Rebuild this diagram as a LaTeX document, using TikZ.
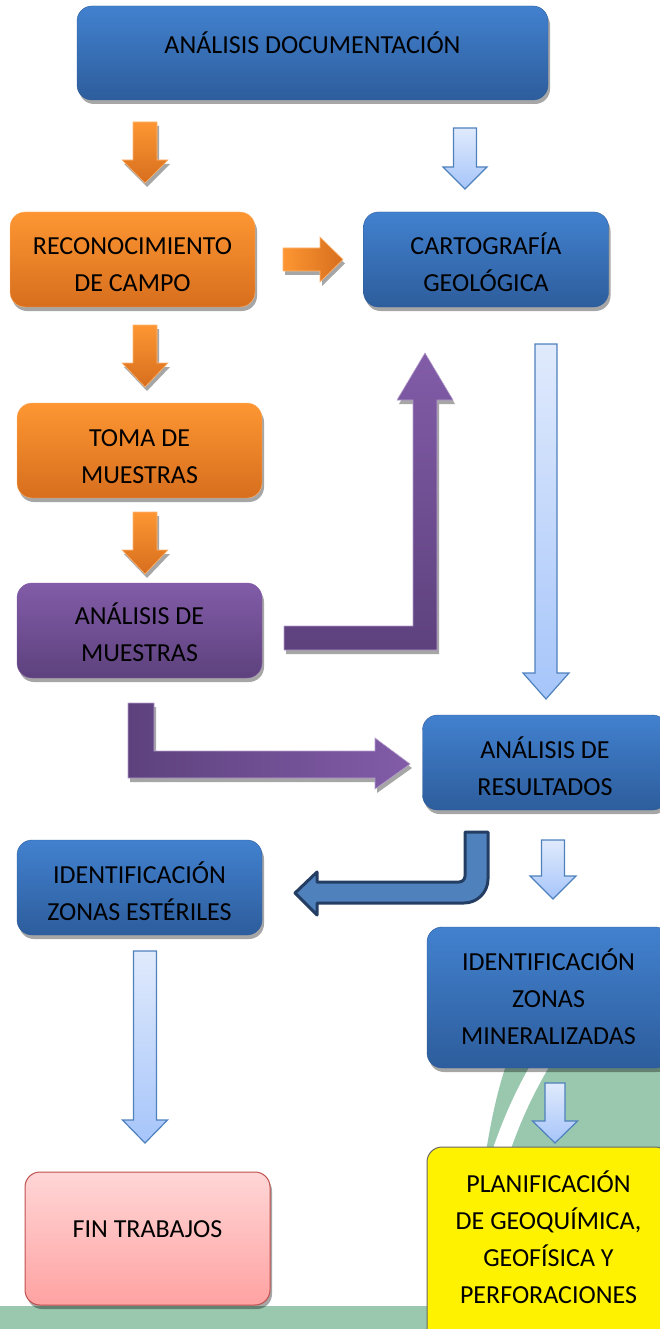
\documentclass[tikz,border=0pt]{standalone}
\usepackage{fontspec}
\setmainfont{Carlito}
\usetikzlibrary{shadows}

\definecolor{blueA}{RGB}{66,129,207}
\definecolor{blueB}{RGB}{45,93,156}
\definecolor{orangeA}{RGB}{253,150,50}
\definecolor{orangeB}{RGB}{215,110,30}
\definecolor{purpleA}{RGB}{130,92,168}
\definecolor{purpleB}{RGB}{93,65,125}
\definecolor{pinkA}{RGB}{255,214,214}
\definecolor{pinkB}{RGB}{255,162,162}
\definecolor{pinkline}{RGB}{192,80,77}
\definecolor{lblueA}{RGB}{224,234,252}
\definecolor{lblueB}{RGB}{166,197,250}
\definecolor{lblueline}{RGB}{79,129,189}
\definecolor{turnfill}{RGB}{79,129,189}
\definecolor{turnline}{RGB}{36,62,99}
\definecolor{greenbg}{RGB}{153,200,175}

\begin{document}
\begin{tikzpicture}[x=1pt,y=-1pt,
	shdw/.style={drop shadow={shadow xshift=2pt,shadow yshift=-4pt,fill=black,opacity=.35}},
	tht/.style={execute at begin node={\rule{0pt}{#1}}},
	tdp/.style={execute at end node={\rule[-#1]{0pt}{0pt}}},
	blk/.style={shdw,rounded corners=15pt,minimum width=245pt,minimum height=95pt,align=center,inner sep=0pt,
		font=\fontsize{26}{37}\selectfont},
	blueblk/.style={blk,top color=blueA,bottom color=blueB,draw=blueB},
	orangeblk/.style={blk,top color=orangeA,bottom color=orangeB,draw=orangeA!70!white},
	purpleblk/.style={blk,top color=purpleA,bottom color=purpleB,draw=purpleA},
	pinkblk/.style={blk,top color=pinkA,bottom color=pinkB,draw=pinkline,line width=1pt},
	yellowblk/.style={blk,fill=yellow,draw=black!60,line width=1pt},
	orangearr/.style={shdw,top color=orangeA,bottom color=orangeB,draw=orangeA!70!white,line width=.6pt},
	bluearr/.style={top color=lblueA,bottom color=lblueB,draw=lblueline,line width=1.2pt},
	purplearr/.style={shdw,draw=purpleA!60!white,line width=.6pt}]
	\useasboundingbox (0,0) rectangle (660,1329);

	\fill[greenbg] (0,1306) rectangle (660,1329);
	\fill[greenbg] (468,1329) .. controls (474,1230) and (486,1110) .. (512,1050) -- (660,1050) -- (660,1329) -- cycle;
	\draw[white,line width=17pt] (552,1045) .. controls (528,1085) and (505,1125) .. (484,1210);

	\node[blueblk,minimum width=471pt,minimum height=94pt,tht=30pt,tdp=29pt] (doc) at (312.5,53) {ANÁLISIS DOCUMENTACIÓN};
	\node[orangeblk,tht=67pt,tdp=3pt] (rec) at (132.5,259.5) {RECONOCIMIENTO\\DE CAMPO};
	\node[blueblk,tht=67pt,tdp=3pt] (car) at (486,259.5) {CARTOGRAFÍA\\GEOLÓGICA};
	\node[orangeblk,tht=67pt,tdp=1pt] (tom) at (139.5,450.5) {TOMA DE\\MUESTRAS};
	\node[purpleblk,tht=67pt,tdp=5pt] (ana) at (139.5,630.5) {ANÁLISIS DE\\MUESTRAS};
	\node[blueblk,tht=67pt,tdp=1pt] (res) at (545,762.5) {ANÁLISIS DE\\RESULTADOS};
	\node[blueblk,tht=67pt,tdp=0pt] (est) at (139.5,887.5) {IDENTIFICACIÓN\\ZONAS ESTÉRILES};
	\node[blueblk,minimum width=243pt,minimum height=141pt,tht=104pt,tdp=10pt] (min) at (548.5,997.5) {IDENTIFICACIÓN\\ZONAS\\MINERALIZADAS};
	\node[pinkblk,minimum height=133pt,tht=30pt,tdp=32pt] (fin) at (147.5,1238.5) {FIN TRABAJOS};
	\node[yellowblk,minimum width=243pt,minimum height=198pt,tht=141pt,tdp=26pt] (pla) at (548.5,1246) {PLANIFICACIÓN\\DE GEOQUÍMICA,\\GEOFÍSICA Y\\PERFORACIONES};

	\foreach \sty/\cx/\ya/\yb/\yc/\s/\h in {orangearr/145/122/160/183/12/23,
		orangearr/145/325/363/387/12/23, orangearr/145/512/550/574/12/23,
		bluearr/465/128/167/189/11.5/22, bluearr/546/344/673/699/11/23,
		bluearr/553/840/876/899/11.5/23, bluearr/145/951/1120/1143/11.5/22.5,
		bluearr/555/1083/1121/1143/10/22.5}{
		\path[\sty] (\cx-\s,\ya) -- (\cx+\s,\ya) -- (\cx+\s,\yb) -- (\cx+\h,\yb) -- (\cx,\yc)
			-- (\cx-\h,\yb) -- (\cx-\s,\yb) -- cycle;
	}

	\path[orangearr,left color=orangeA,right color=orangeB] (283,248) -- (320,248) -- (320,237) -- (343,259.5)
		-- (320,282) -- (320,271) -- (283,271) -- cycle;
	\path[purplearr,bottom color=purpleB,top color=purpleA] (284,626) -- (413,626) -- (413,400) -- (397,400)
		-- (425,353) -- (453,400) -- (437,400) -- (437,650) -- (284,650) -- cycle;
	\path[purplearr,left color=purpleB,right color=purpleA] (128,703) -- (154,703) -- (154,751) -- (375,751)
		-- (375,738) -- (410,764) -- (375,789) -- (375,778) -- (128,778) -- cycle;
	\path[fill=turnfill,draw=turnline,line width=3pt,line join=round] (465,832) -- (488,832) -- (488,879)
		.. controls (488,892.3) and (477.3,903) .. (464,903) -- (317,903) -- (317,915) -- (295,893)
		-- (317,872) -- (317,882) -- (459,882) .. controls (462.3,882) and (465,879.3) .. (465,876) -- cycle;
\end{tikzpicture}
\end{document}
